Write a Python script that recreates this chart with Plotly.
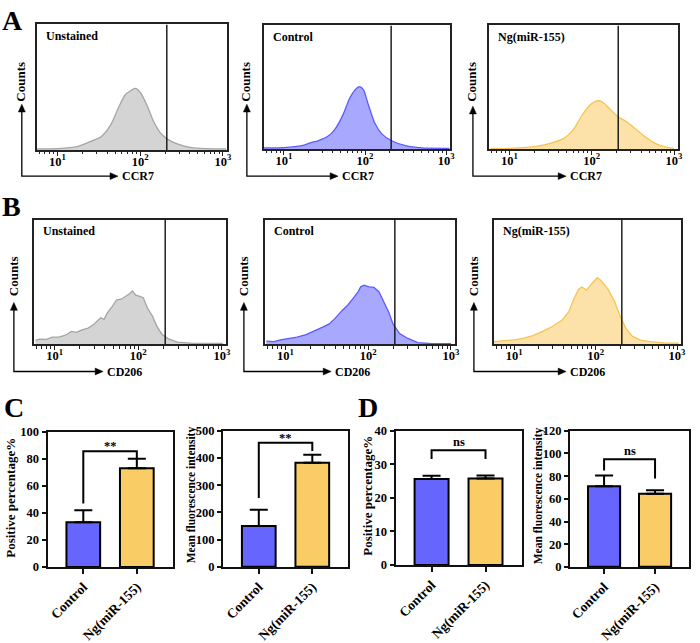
import numpy as np
import plotly.graph_objects as go

W, H = 700, 643
FONT = "Liberation Serif"

# ---------------- Histogram data (log10 fluorescence, relative counts %) ----------------
a_unst_log = [0.75, 1.0, 1.24, 1.44, 1.52, 1.64, 1.74, 1.82, 1.88, 1.94, 2.0, 2.08, 2.16, 2.24, 2.32, 2.44, 2.6, 2.8, 3.04]
a_unst_cnt = [0.8, 1.0, 2.6, 7.8, 10.0, 19.5, 34.0, 44.0, 47.0, 49.0, 46.0, 36.0, 23.0, 14.0, 9.0, 5.0, 2.0, 1.0, 0.8]

a_ctrl_log = [0.74, 1.0, 1.22, 1.34, 1.42, 1.55, 1.63, 1.73, 1.81, 1.88, 1.93, 1.98, 2.04, 2.12, 2.21, 2.33, 2.50, 2.70, 3.04]
a_ctrl_cnt = [0.8, 1.0, 2.6, 5.3, 6.6, 10.6, 16.0, 28.0, 41.0, 48.0, 50.4, 48.0, 36.0, 21.0, 12.0, 6.6, 2.6, 0.8, 0.5]

a_ng_log = [0.77, 1.0, 1.30, 1.50, 1.66, 1.77, 1.89, 1.97, 2.03, 2.09, 2.15, 2.23, 2.33, 2.41, 2.53, 2.65, 2.77, 2.93, 3.0]
a_ng_cnt = [0.3, 0.5, 1.9, 4.5, 8.5, 15.0, 28.0, 35.0, 38.0, 39.0, 37.0, 31.6, 25.7, 22.5, 16.4, 9.8, 4.5, 1.0, 0.5]

b_unst_log = [0.77, 0.82, 0.90, 0.97, 1.05, 1.13, 1.20, 1.26, 1.32, 1.40, 1.47, 1.55, 1.59, 1.63, 1.69, 1.74, 1.80,
              1.86, 1.90, 1.93, 1.97, 2.01, 2.06, 2.11, 2.17, 2.22, 2.28, 2.36, 2.47, 2.63, 3.01]
b_unst_cnt = [3.1, 4.2, 3.9, 5.7, 5.7, 7.3, 10.4, 9.6, 11.4, 13.0, 16.1, 21.3, 20.0, 25.2, 30.4, 35.6, 36.4,
              38.7, 40.8, 42.9, 39.5, 38.7, 37.4, 29.1, 22.6, 14.8, 8.3, 4.4, 1.8, 1.0, 0.8]

b_ctrl_log = [0.77, 0.86, 0.94, 1.02, 1.14, 1.25, 1.37, 1.45, 1.53, 1.60, 1.68, 1.76, 1.82, 1.88, 1.91, 1.95,
              2.01, 2.07, 2.13, 2.19, 2.25, 2.30, 2.38, 2.48, 2.60, 2.77, 3.0]
b_ctrl_cnt = [2.6, 2.1, 3.6, 4.2, 5.7, 7.8, 11.2, 13.8, 16.4, 20.8, 26.8, 32.0, 37.1, 42.3, 46.2, 47.5,
              46.2, 45.7, 42.3, 34.5, 25.5, 16.4, 8.6, 4.7, 1.3, 0.5, 0.5]

b_ng_log = [0.75, 0.87, 1.0, 1.11, 1.23, 1.35, 1.47, 1.59, 1.67, 1.73, 1.79, 1.83, 1.89, 1.95, 2.02, 2.07,
            2.15, 2.23, 2.29, 2.37, 2.45, 2.55, 2.67, 2.87, 3.02]
b_ng_cnt = [2.1, 2.6, 3.6, 4.7, 7.0, 10.4, 14.3, 19.5, 26.0, 36.0, 44.0, 46.0, 43.5, 48.5, 53.5, 51.0,
            44.5, 35.0, 24.5, 13.0, 6.5, 3.4, 2.1, 1.0, 1.0]

gate_value = 210
hist_titles = ["Unstained", "Control", "Ng(miR-155)", "Unstained", "Control", "Ng(miR-155)"]
hist_markers = ["CCR7", "CCR7", "CCR7", "CD206", "CD206", "CD206"]
hist_tickvals = [10, 100, 1000]
hist_ticktext = ["10<sup>1</sup>", "10<sup>2</sup>", "10<sup>3</sup>"]

# ---------------- Bar chart data ----------------
categories = ["Control", "Ng(miR-155)"]
c_pos_mean = [33, 73]
c_pos_sd = [9, 7]
c_mfi_mean = [150, 383]
c_mfi_sd = [60, 29]
d_pos_mean = [25.6, 25.8]
d_pos_sd = [1.0, 0.9]
d_mfi_mean = [71, 64.5]
d_mfi_sd = [9.5, 3.0]

sig_labels = ["**", "**", "ns", "ns"]
bracket_top = [85.6, 456, 34.2, 95]
bracket_left = [47, 253, 31.6, 85]
bracket_right = [80, 426, 31.6, 78]
bar_ymax = [100, 500, 40, 120]
bar_dtick = [20, 100, 10, 20]
bar_ytitles = ["Positive percentage%", "Mean fluorescence intensity",
               "Positive percentage%", "Mean fluorescence intensity"]

# ---------------- Styles / layout positions (pixels) ----------------
fill_cols = ["rgb(212,212,212)", "rgb(168,168,255)", "rgb(252,226,168)"] * 2
line_cols = ["rgb(165,165,165)", "rgb(92,92,255)", "rgb(247,196,82)"] * 2
line_shapes = ["spline"] * 3 + ["linear"] * 3

hist_boxes = [(36, 228, 18, 147), (265, 453, 19, 146), (492, 683, 19, 146),
              (33, 227, 219, 347), (266, 458, 219, 347), (497, 686, 219, 347)]
# (vertical arrow x, baseline y, arrow head y, horizontal head x)
hist_arrows = [(21, 174, 100, 118), (248, 174, 100, 340), (476, 174, 102, 570),
               (13, 375, 304, 103), (245, 375, 304, 333), (477, 375, 304, 570)]
counts_y = [77, 77, 77, 277, 277, 277]

bar_boxes = [(47, 173, 437, 576), (224, 350, 436, 576), (398, 525, 436, 574), (574, 694, 436, 576)]
bar_title_pos = [(10, 505), (193, 502), (370, 503), (543, 503)]
panel_letters = [("A", 12, 14), ("B", 11, 205), ("C", 13, 412), ("D", 370, 412)]


def PX(x):
    return x / W


def PY(y):
    return 1 - y / H


fig = go.Figure()
layout = dict(width=W, height=H, margin=dict(l=0, r=0, t=0, b=0), showlegend=False,
              paper_bgcolor="white", plot_bgcolor="white",
              font=dict(family=FONT, color="black", size=12, weight="bold"))
shapes = []
annotations = []

minor_vals = [m * 10 ** e for e in (0, 1, 2) for m in range(2, 10)]

hist_logs = [a_unst_log, a_ctrl_log, a_ng_log, b_unst_log, b_ctrl_log, b_ng_log]
hist_cnts = [a_unst_cnt, a_ctrl_cnt, a_ng_cnt, b_unst_cnt, b_ctrl_cnt, b_ng_cnt]

AH_L, AH_W = 8, 3.5  # arrowhead length / half-width in px

for i in range(6):
    n = i + 1
    xa = "x" if n == 1 else f"x{n}"
    ya = "y" if n == 1 else f"y{n}"
    l, r, t, b = hist_boxes[i]
    fig.add_trace(go.Scatter(x=10 ** np.array(hist_logs[i]), y=hist_cnts[i], mode="lines",
                             fill="tozeroy", fillcolor=fill_cols[i],
                             line=dict(color=line_cols[i], width=1.3, shape=line_shapes[i], smoothing=0.7),
                             xaxis=xa, yaxis=ya, hoverinfo="skip"))
    fig.add_trace(go.Scatter(x=[gate_value, gate_value], y=[0, 100], mode="lines",
                             line=dict(color="#111", width=1.4), xaxis=xa, yaxis=ya, hoverinfo="skip"))
    layout[f"xaxis{n if n > 1 else ''}"] = dict(
        type="log", range=[0.75, 3.05], domain=[PX(l), PX(r)], anchor=ya,
        showline=True, mirror=True, linecolor="#222", linewidth=1.5,
        ticks="outside", ticklen=4, tickwidth=1.2, tickcolor="#222",
        tickvals=hist_tickvals, ticktext=hist_ticktext, ticklabelstandoff=-5,
        tickfont=dict(family=FONT, size=12.5, color="black", weight="bold"),
        minor=dict(tickvals=minor_vals, ticks="outside", ticklen=2.5, tickwidth=1, tickcolor="#222"),
        showgrid=False, zeroline=False, fixedrange=True)
    layout[f"yaxis{n if n > 1 else ''}"] = dict(
        range=[0, 100], domain=[PY(b), PY(t)], anchor=xa,
        showline=True, mirror=True, linecolor="#222", linewidth=1.5,
        ticks="", showticklabels=False, showgrid=False, zeroline=False, fixedrange=True)
    annotations.append(dict(text=hist_titles[i], xref=f"{xa} domain", yref=f"{ya} domain",
                            x=0.04, y=0.91, xanchor="left", yanchor="middle", showarrow=False,
                            font=dict(family=FONT, size=12, color="black", weight="bold")))
    vx, by, hy, hx = hist_arrows[i]
    shapes.append(dict(type="path", xref="paper", yref="paper",
                       path=f"M {PX(vx)},{PY(hy + AH_L - 1)} L {PX(vx)},{PY(by)} L {PX(hx - AH_L + 1)},{PY(by)}",
                       line=dict(color="black", width=1.3)))
    # arrowheads as filled triangles
    shapes.append(dict(type="path", xref="paper", yref="paper",
                       path=(f"M {PX(vx)},{PY(hy)} L {PX(vx - AH_W)},{PY(hy + AH_L)} "
                             f"L {PX(vx + AH_W)},{PY(hy + AH_L)} Z"),
                       fillcolor="black", line=dict(color="black", width=0.5)))
    shapes.append(dict(type="path", xref="paper", yref="paper",
                       path=(f"M {PX(hx)},{PY(by)} L {PX(hx - AH_L)},{PY(by - AH_W)} "
                             f"L {PX(hx - AH_L)},{PY(by + AH_W)} Z"),
                       fillcolor="black", line=dict(color="black", width=0.5)))
    annotations.append(dict(text=hist_markers[i], x=PX(hx + 2), y=PY(by), xref="paper", yref="paper",
                            xanchor="left", yanchor="middle", showarrow=False,
                            font=dict(family=FONT, size=12, color="black", weight="bold")))
    annotations.append(dict(text="Counts", x=PX(vx - 1), y=PY(counts_y[i]), xref="paper", yref="paper",
                            xanchor="center", yanchor="middle", textangle=-90, showarrow=False,
                            font=dict(family=FONT, size=13, color="black", weight="bold")))

bar_means = [c_pos_mean, c_mfi_mean, d_pos_mean, d_mfi_mean]
bar_sds = [c_pos_sd, c_mfi_sd, d_pos_sd, d_mfi_sd]
bar_colors = ["rgb(102,102,255)", "rgb(249,204,102)"]

for j in range(4):
    n = 7 + j
    xa, ya = f"x{n}", f"y{n}"
    l, r, t, b = bar_boxes[j]
    fig.add_trace(go.Bar(x=[0, 1], y=bar_means[j], width=0.63,
                         marker=dict(color=bar_colors, line=dict(color="black", width=2)),
                         error_y=dict(type="data", symmetric=False, array=bar_sds[j], arrayminus=[0, 0],
                                      color="black", thickness=2, width=9),
                         xaxis=xa, yaxis=ya, hoverinfo="skip"))
    layout[f"xaxis{n}"] = dict(
        range=[-0.667, 1.667], domain=[PX(l), PX(r)], anchor=ya,
        showline=True, mirror=True, linecolor="#111", linewidth=2,
        ticks="outside", ticklen=5, tickwidth=2, tickcolor="#111",
        tickvals=[0, 1], ticktext=categories, tickangle=-45,
        tickfont=dict(family=FONT, size=13.5, color="black", weight="bold"),
        showgrid=False, zeroline=False, fixedrange=True)
    layout[f"yaxis{n}"] = dict(
        range=[0, bar_ymax[j]], dtick=bar_dtick[j], domain=[PY(b), PY(t)], anchor=xa,
        showline=True, mirror=True, linecolor="#111", linewidth=2,
        ticks="outside", ticklen=4, tickwidth=2, tickcolor="#111",
        tickfont=dict(family=FONT, size=12.5, color="black", weight="bold"),
        showgrid=False, zeroline=False, fixedrange=True)
    shapes.append(dict(type="path", xref=xa, yref=ya,
                       path=f"M 0,{bracket_left[j]} L 0,{bracket_top[j]} L 1,{bracket_top[j]} L 1,{bracket_right[j]}",
                       line=dict(color="black", width=2)))
    annotations.append(dict(text=sig_labels[j], x=0.5, y=bracket_top[j], xref=xa, yref=ya,
                            xanchor="center", yanchor="bottom",
                            yshift=-4 if sig_labels[j] == "**" else -1, showarrow=False,
                            font=dict(family=FONT, size=12.5, color="black", weight="bold")))
    tx, ty = bar_title_pos[j]
    annotations.append(dict(text=bar_ytitles[j], x=PX(tx), y=PY(ty), xref="paper", yref="paper",
                            xanchor="center", yanchor="middle", textangle=-90, showarrow=False,
                            font=dict(family=FONT, size=13 if j % 2 == 0 else 11.5, color="black", weight="bold")))

for letter, lx, ly in panel_letters:
    annotations.append(dict(text=letter, x=PX(lx), y=PY(ly), xref="paper", yref="paper",
                            xanchor="center", yanchor="middle", showarrow=False,
                            font=dict(family=FONT, size=28, color="black", weight="bold")))

layout["shapes"] = shapes
layout["annotations"] = annotations
fig.update_layout(**layout)
fig.write_html("out.html", config={"displayModeBar": False},
               post_script="document.body.style.margin='0';document.body.style.padding='0';")
